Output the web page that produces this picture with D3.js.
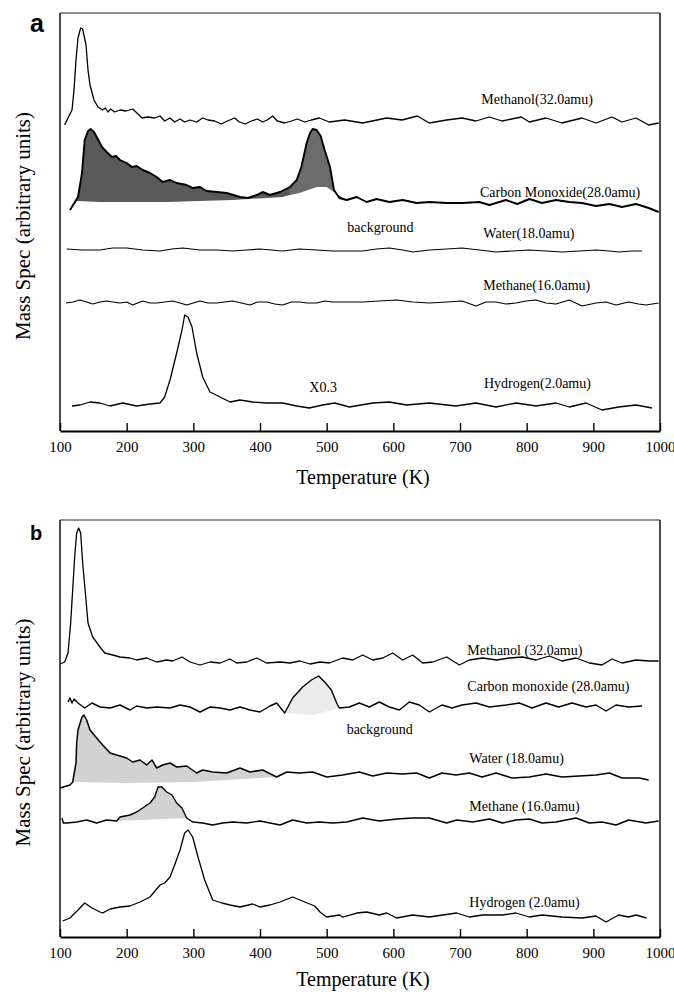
<!DOCTYPE html>
<html>
<head>
<meta charset="utf-8">
<script src="https://cdn.jsdelivr.net/npm/d3@7"></script>
<style>
  body { margin: 0; background: #fff; }
  svg { display: block; }
  text { font-family: "Liberation Serif", "Times New Roman", serif; fill: #000; }
</style>
</head>
<body>
<svg id="chart" width="674" height="992"></svg>
<script>
// Temperature axis ticks (K)
const tempTicks = [100, 200, 300, 400, 500, 600, 700, 800, 900, 1000];

// ---- Panel a : desorption traces, [temperature K, signal (arb.)] ----
const aMethanol = [[107,306],[112,313],[118,321],[121,341],[124,371],[127,393],[131,403],[134,402],[139,386],[142,361],[145,346],[151,331],[157,324],[164,321],[168,323],[172,319],[176,322],[182,319],[190,321],[199,320],[209,322],[217,317],[223,313],[232,314],[242,313],[250,315],[257,310],[265,313],[272,309],[280,312],[287,309],[295,311],[305,309],[314,313],[322,311],[332,310],[342,307],[351,310],[362,313],[369,309],[378,307],[387,310],[396,312],[404,309],[411,311],[419,315],[426,310],[437,308],[447,310],[456,312],[467,309],[477,311],[489,313],[504,309],[527,311],[554,308],[590,313],[613,311],[636,315],[654,308],[680,311],[703,313],[724,310],[744,314],[763,310],[792,314],[804,309],[829,313],[853,308],[883,313],[904,308],[928,314],[943,309],[964,313],[983,306],[998,308]];
const aCarbonMonoxide = [[115,221],[127,234],[133,258],[137,291],[142,300],[146,302],[151,299],[155,294],[163,284],[170,279],[178,274],[184,275],[190,271],[200,268],[208,264],[215,265],[224,261],[235,258],[245,254],[254,249],[265,251],[275,248],[290,246],[299,243],[310,244],[320,240],[335,239],[350,238],[370,234],[382,233],[395,236],[404,239],[415,236],[430,239],[445,244],[455,251],[462,264],[470,288],[475,298],[479,302],[485,301],[491,295],[497,281],[505,264],[511,241],[519,233],[530,231],[545,234],[560,229],[575,232],[594,229],[614,231],[635,228],[654,229],[680,228],[704,228],[729,229],[744,226],[769,231],[786,227],[804,232],[823,228],[844,231],[864,229],[883,228],[904,225],[924,227],[943,224],[964,227],[983,223],[998,219]];
const aCOBackground1 = [[115,221],[125,230],[160,229],[260,229],[359,231],[434,234],[445,236]];
const aCOBackground2 = [[445,236],[459,238],[485,244],[500,244],[515,237],[530,231]];
const aWater = [[110,182],[134,181],[160,181],[179,183],[200,183],[224,181],[250,180],[268,182],[284,183],[310,181],[335,181],[359,180],[380,181],[400,182],[417,181],[434,180],[459,182],[485,181],[509,180],[531,180],[554,180],[575,182],[594,183],[614,181],[629,179],[654,181],[680,182],[703,183],[729,181],[754,179],[778,180],[804,181],[829,180],[853,179],[879,180],[904,181],[924,180],[939,179],[957,180],[973,180]];
const aMethane = [[109,128],[119,129],[130,131],[140,129],[149,127],[160,129],[170,130],[179,129],[190,128],[200,129],[209,126],[224,130],[235,128],[245,128],[257,129],[269,130],[280,128],[290,126],[310,130],[322,128],[335,128],[347,129],[359,130],[372,128],[385,126],[396,129],[410,129],[422,127],[434,126],[447,129],[459,129],[471,128],[485,128],[497,130],[509,129],[530,129],[554,129],[579,130],[605,131],[629,129],[654,128],[680,129],[703,130],[724,125],[739,129],[754,129],[769,127],[784,128],[799,130],[814,131],[829,128],[844,127],[864,131],[883,125],[904,128],[919,129],[934,126],[953,129],[968,127],[979,126],[998,128]];
const aHydrogen = [[118,25],[130,26],[145,29],[160,28],[175,25],[194,28],[215,25],[235,27],[250,28],[257,34],[265,51],[275,78],[283,101],[287,116],[292,114],[298,104],[305,78],[314,54],[325,39],[340,34],[355,29],[370,31],[389,29],[410,28],[434,28],[455,25],[474,23],[494,26],[512,28],[534,24],[569,28],[594,29],[620,26],[654,28],[694,25],[724,28],[754,24],[784,28],[814,25],[844,28],[864,24],[889,28],[913,21],[938,24],[964,26],[988,23]];

// ---- Panel b ----
const bMethanol = [[100,273],[107,275],[112,284],[116,314],[119,347],[122,380],[125,404],[128,409],[131,404],[134,374],[139,337],[142,314],[149,300],[160,290],[167,284],[179,282],[190,280],[205,279],[215,277],[230,279],[245,275],[260,277],[269,276],[283,280],[295,275],[310,272],[325,275],[340,274],[355,278],[365,274],[380,275],[395,279],[410,274],[430,275],[445,274],[460,276],[475,273],[490,275],[504,274],[524,279],[539,277],[554,282],[569,277],[584,279],[599,284],[614,277],[629,282],[644,274],[659,275],[680,280],[699,272],[714,277],[734,279],[755,277],[774,279],[794,280],[814,277],[834,281],[853,276],[874,279],[894,274],[913,272],[928,278],[943,274],[964,277],[983,276],[998,276]];
const bCarbonMonoxide = [[112,235],[115,239],[118,234],[121,238],[127,234],[137,229],[148,234],[160,230],[175,229],[190,232],[205,227],[215,231],[230,229],[245,230],[265,229],[280,232],[295,230],[310,225],[325,230],[340,229],[355,227],[370,230],[385,227],[400,225],[415,231],[425,234],[437,224],[449,239],[464,250],[477,257],[488,261],[497,255],[507,247],[515,234],[519,229],[534,230],[549,234],[564,230],[579,235],[594,230],[609,227],[624,235],[639,232],[654,225],[673,232],[688,229],[703,232],[724,234],[744,230],[769,232],[789,234],[808,229],[829,234],[848,230],[868,234],[889,230],[904,232],[919,226],[934,232],[953,230],[973,231]];
const bCOBackground = [[437,224],[480,222],[519,229]];
const bWater = [[100,149],[115,152],[119,155],[124,174],[125,194],[127,207],[133,220],[136,222],[140,217],[145,207],[155,199],[164,192],[175,184],[185,182],[200,179],[209,175],[220,177],[230,172],[238,177],[245,169],[254,172],[265,174],[275,170],[290,171],[305,164],[314,167],[329,165],[350,164],[370,169],[385,165],[404,167],[425,160],[440,165],[459,164],[479,165],[500,160],[524,162],[549,165],[569,161],[590,164],[614,163],[635,164],[654,159],[673,164],[694,162],[714,164],[733,160],[754,164],[778,159],[804,160],[829,163],[853,160],[879,161],[904,162],[924,164],[943,159],[969,159],[983,157]];
const bWaterBackground = [[119,155],[200,154],[300,155],[425,160]];
const bMethane = [[103,119],[105,114],[110,114],[125,115],[140,117],[155,114],[170,117],[185,116],[190,120],[205,122],[215,125],[224,129],[235,134],[242,140],[247,150],[253,150],[260,145],[268,142],[275,134],[283,129],[290,119],[299,115],[314,114],[329,112],[344,114],[359,115],[380,114],[400,116],[415,114],[430,112],[449,117],[470,114],[489,115],[509,114],[530,115],[554,119],[579,116],[605,118],[629,119],[654,119],[680,114],[695,117],[719,115],[744,118],[764,114],[784,117],[804,118],[823,114],[844,115],[874,119],[894,114],[913,115],[934,112],[953,117],[979,114],[998,116]];
const bMethaneBackground = [[185,116],[290,119]];
const bHydrogen = [[104,16],[115,19],[127,27],[137,34],[148,29],[160,25],[164,24],[175,28],[190,30],[205,31],[220,35],[235,40],[250,52],[257,54],[265,60],[272,72],[280,87],[287,104],[292,107],[299,100],[307,80],[317,57],[329,37],[343,34],[355,32],[370,30],[389,33],[400,30],[415,32],[430,35],[449,40],[467,35],[482,31],[490,25],[500,20],[519,22],[524,20],[545,24],[560,25],[579,22],[590,24],[605,19],[629,22],[654,20],[674,22],[695,24],[714,20],[734,22],[764,22],[784,24],[804,20],[823,22],[853,20],[883,19],[904,21],[919,15],[938,22],[953,20],[964,22],[980,19]];

// Panel layout and what goes into each
const panels = [
  {
    letter: "a", top: 13, bottom: 431, yMax: 418, letterY: 32, letterSize: 25, titleY: 484,
    traces: [
      { data: aMethanol, width: 1.3 },
      { data: aCarbonMonoxide, width: 1.9 },
      { data: aWater, width: 1.2 },
      { data: aMethane, width: 1.2 },
      { data: aHydrogen, width: 1.3 }
    ],
    fills: [
      { data: aCarbonMonoxide, base: aCOBackground1, color: "#595959" },
      { data: aCarbonMonoxide, base: aCOBackground2, color: "#6c6c6c" }
    ],
    notes: [
      { text: "Methanol(32.0amu)", t: 732, v: 327 },
      { text: "Carbon Monoxide(28.0amu)", t: 730, v: 234 },
      { text: "background", t: 531, v: 199 },
      { text: "Water(18.0amu)", t: 735, v: 193 },
      { text: "Methane(16.0amu)", t: 735, v: 141 },
      { text: "X0.3", t: 474, v: 39 },
      { text: "Hydrogen(2.0amu)", t: 736, v: 43 }
    ]
  },
  {
    letter: "b", top: 520, bottom: 937, yMax: 417, letterY: 540, letterSize: 20, titleY: 986,
    traces: [
      { data: bMethanol, width: 1.3 },
      { data: bCarbonMonoxide, width: 1.4 },
      { data: bWater, width: 1.5 },
      { data: bMethane, width: 1.4 },
      { data: bHydrogen, width: 1.3 }
    ],
    fills: [
      { data: bWater, base: bWaterBackground, color: "#d2d2d2" },
      { data: bMethane, base: bMethaneBackground, color: "#d2d2d2" },
      { data: bCarbonMonoxide, base: bCOBackground, color: "#ececec" }
    ],
    notes: [
      { text: "Methanol (32.0amu)", t: 711, v: 282 },
      { text: "Carbon monoxide (28.0amu)", t: 711, v: 246 },
      { text: "background", t: 530, v: 203 },
      { text: "Water (18.0amu)", t: 714, v: 174 },
      { text: "Methane (16.0amu)", t: 714, v: 126 },
      { text: "Hydrogen (2.0amu)", t: 714, v: 30 }
    ]
  }
];

const serif = "'Liberation Serif', 'Times New Roman', serif";
const svg = d3.select("#chart");
const x = d3.scaleLinear().domain([100, 1000]).range([60, 660]);

panels.forEach(p => {
  const y = d3.scaleLinear().domain([0, p.yMax]).range([p.bottom, p.top]);
  const g = svg.append("g");
  const line = d3.line().x(d => x(d[0])).y(d => y(d[1]));

  // shaded regions: trace segment above its background line
  p.fills.forEach(f => {
    const t0 = f.base[0][0], t1 = f.base[f.base.length - 1][0];
    const seg = f.data.filter(d => d[0] >= t0 && d[0] <= t1);
    const poly = seg.concat(f.base.slice().reverse());
    g.append("path").attr("d", line(poly) + "Z")
      .attr("fill", f.color).attr("stroke", "none");
  });

  // traces
  p.traces.forEach(s => {
    g.append("path").attr("d", line(s.data))
      .attr("fill", "none").attr("stroke", "#000")
      .attr("stroke-width", s.width).attr("stroke-linejoin", "round");
  });

  // frame
  g.append("line").attr("x1", x(100)).attr("x2", x(1000)).attr("y1", p.top).attr("y2", p.top)
    .attr("stroke", "#222").attr("stroke-width", 1.1);
  g.append("line").attr("x1", x(1000)).attr("x2", x(1000)).attr("y1", p.top).attr("y2", p.bottom)
    .attr("stroke", "#000").attr("stroke-width", 1.4);
  g.append("line").attr("x1", x(100)).attr("x2", x(100)).attr("y1", p.top).attr("y2", p.bottom)
    .attr("stroke", "#000").attr("stroke-width", 1.4);

  // temperature axis, ticks pointing into the plot
  const axis = d3.axisBottom(x).tickValues(tempTicks).tickFormat(d3.format("d"))
    .tickSizeInner(-8).tickSizeOuter(0).tickPadding(10);
  const ax = g.append("g").attr("transform", `translate(0,${p.bottom})`).call(axis);
  ax.attr("font-family", serif);
  ax.select(".domain").attr("stroke", "#000").attr("stroke-width", 2);
  ax.selectAll(".tick line").attr("stroke", "#000").attr("stroke-width", 1.4);
  ax.selectAll(".tick text").style("font-family", serif)
    .attr("font-size", 15).attr("fill", "#000");

  // axis titles
  g.append("text").attr("x", 363).attr("y", p.titleY).attr("text-anchor", "middle")
    .style("font-family", serif).attr("font-size", 20).text("Temperature (K)");
  const midY = (p.top + p.bottom) / 2 + 4;
  g.append("text").attr("transform", `translate(30,${midY}) rotate(-90)`)
    .attr("text-anchor", "middle").style("font-family", serif).attr("font-size", 21)
    .text("Mass Spec (arbitrary units)");

  // trace labels
  p.notes.forEach(n => {
    g.append("text").attr("x", x(n.t)).attr("y", y(n.v))
      .style("font-family", serif).attr("font-size", 14).text(n.text);
  });

  // panel letter
  g.append("text").attr("x", 30).attr("y", p.letterY)
    .style("font-family", "'Liberation Sans', Arial, sans-serif")
    .attr("font-weight", "bold").attr("font-size", p.letterSize).text(p.letter);
});
</script>
</body>
</html>
